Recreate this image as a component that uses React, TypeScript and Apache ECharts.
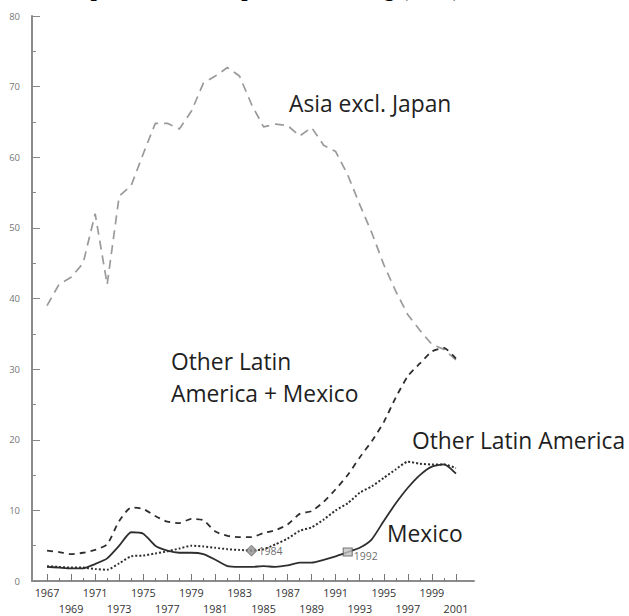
import React, { useEffect, useRef } from "react";
import * as echarts from "echarts";

const years = [1967, 1968, 1969, 1970, 1971, 1972, 1973, 1974, 1975, 1976, 1977, 1978, 1979, 1980, 1981, 1982, 1983, 1984, 1985, 1986, 1987, 1988, 1989, 1990, 1991, 1992, 1993, 1994, 1995, 1996, 1997, 1998, 1999, 2000, 2001];

const asiaExclJapan = [39, 42, 43, 45, 52, 42, 54.5, 56, 60.5, 64.8, 64.8, 64, 66.5, 70.5, 71.5, 72.7, 71.5, 67.5, 64.3, 64.7, 64.5, 63, 64.2, 61.7, 60.8, 57.5, 53.3, 49.3, 44.8, 41, 37.7, 35.5, 33.5, 32.8, 31.3];
const otherLatAmPlusMexico = [4.3, 4.1, 3.8, 4.0, 4.4, 5.2, 8.5, 10.4, 10.2, 9.2, 8.4, 8.2, 8.8, 8.6, 7.0, 6.4, 6.2, 6.2, 6.8, 7.2, 8.0, 9.5, 9.9, 11.2, 13.0, 15.0, 17.5, 19.8, 22.5, 26, 29, 30.8, 32.5, 33, 31.5];
const otherLatAm = [2.1, 2.0, 1.9, 1.9, 1.7, 1.6, 2.5, 3.5, 3.6, 3.9, 4.2, 4.6, 5.0, 4.9, 4.7, 4.5, 4.4, 4.3, 4.5, 5.2, 6.0, 7.1, 7.6, 8.7, 10.0, 11.0, 12.5, 13.4, 14.6, 15.8, 16.9, 16.6, 16.5, 16.5, 16.0];
const mexico = [2.0, 1.9, 1.8, 1.8, 2.4, 3.2, 5.0, 6.9, 6.7, 5.0, 4.3, 4.0, 4.0, 3.8, 3.0, 2.1, 2.0, 2.0, 2.1, 2.0, 2.2, 2.6, 2.6, 3.0, 3.5, 4.1, 4.7, 5.9, 8.5, 11.0, 13.2, 15.0, 16.2, 16.5, 15.2];

const majorTickYears = [1967, 1969, 1971, 1973, 1975, 1977, 1979, 1981, 1983, 1985, 1987, 1989, 1991, 1993, 1995, 1997, 1999, 2001];
const minorTickYears = [1968, 1970, 1972, 1974, 1976, 1978, 1980, 1982, 1984, 1986, 1988, 1990, 1992, 1994, 1996, 1998, 2000];
const labelRowOne = [1967, 1971, 1975, 1979, 1983, 1987, 1991, 1995, 1999];
const labelRowTwo = [1969, 1973, 1977, 1981, 1985, 1989, 1993, 1997, 2001];

const diamondPoint = [1984, 4.3];
const squarePoint = [1992, 4.1];

const titleText = "Japan, as % of imports, excluding (fuels)";
const seriesLabels = {
  asia: "Asia excl. Japan",
  olamTop: "Other Latin",
  olamBottom: "America + Mexico",
  olam: "Other Latin America",
  mexico: "Mexico",
};

const toPairs = (vals: number[]) => years.map((y, i) => [y, vals[i]]);

export default function App() {
  const ref = useRef<HTMLDivElement>(null);
  useEffect(() => {
    if (!ref.current) return;
    const chart = echarts.init(ref.current, null, { renderer: "svg" });
    const lineCol = "#2e2e2e";
    const labelStyle = (text: string) => ({
      text,
      fill: "#1f1f1f",
      font: `22.8px 'Open Sans'`,
      verticalAlign: "middle",
      align: "left",
    });
    chart.setOption({
      animation: false,
      backgroundColor: "#ffffff",
      grid: { left: 32, right: 155, top: 16, bottom: 34, containLabel: false },
      xAxis: [
        {
          type: "value",
          min: 1965.75,
          max: 2002.5,
          position: "bottom",
          splitLine: { show: false },
          axisLine: { show: true, onZero: false, lineStyle: { color: "#8c8c8c", width: 2 } },
          axisTick: { show: true, inside: true, length: 7, customValues: majorTickYears, lineStyle: { color: "#777", width: 1 } },
          axisLabel: {
            show: true,
            customValues: [...labelRowOne, ...labelRowTwo],
            formatter: (v: number) => (labelRowTwo.includes(v) ? "\n" + v : String(v)),
            color: "#333",
            fontSize: 10.8,
            fontFamily: "Open Sans",
            lineHeight: 16,
            margin: 3,
          },
        },
        {
          type: "value",
          min: 1965.75,
          max: 2002.5,
          position: "bottom",
          offset: 0,
          splitLine: { show: false },
          axisLine: { show: false },
          axisTick: { show: true, inside: true, length: 3, customValues: minorTickYears, lineStyle: { color: "#777", width: 1 } },
          axisLabel: { show: false },
        },
      ],
      yAxis: {
        type: "value",
        min: 0,
        max: 80,
        interval: 10,
        splitLine: { show: false },
        axisLine: { show: true, lineStyle: { color: "#8c8c8c", width: 2 } },
        axisTick: { show: true, inside: true, length: 8, lineStyle: { color: "#888", width: 1 } },
        minorTick: { show: true, splitNumber: 2, length: 4, lineStyle: { color: "#888", width: 1 } },
        axisLabel: { color: "#777", fontSize: 9.5, fontFamily: "Open Sans", margin: 12 },
      },
      series: [
        {
          name: seriesLabels.asia,
          type: "line",
          data: toPairs(asiaExclJapan),
          symbol: "none",
          lineStyle: { color: "#9a9a9a", width: 1.7, type: [9, 6] },
        },
        {
          name: "Other Latin America + Mexico",
          type: "line",
          data: toPairs(otherLatAmPlusMexico),
          symbol: "none",
          smooth: 0.2,
          lineStyle: { color: lineCol, width: 1.8, type: [6, 5] },
        },
        {
          name: seriesLabels.olam,
          type: "line",
          data: toPairs(otherLatAm),
          symbol: "none",
          smooth: 0.2,
          lineStyle: { color: lineCol, width: 2, type: [2, 2] },
        },
        {
          name: seriesLabels.mexico,
          type: "line",
          data: toPairs(mexico),
          symbol: "none",
          smooth: 0.2,
          lineStyle: { color: lineCol, width: 1.8 },
        },
        {
          type: "scatter",
          data: [diamondPoint],
          symbol: "diamond",
          symbolSize: [11, 11],
          itemStyle: { color: "#8e8e8e", borderColor: "#666", borderWidth: 1 },
          label: { show: true, position: "right", distance: 1, formatter: (p: any) => String(p.value[0]), fontSize: 10.5, fontFamily: "Open Sans", color: "#444" },
          z: 5,
        },
        {
          type: "scatter",
          data: [squarePoint],
          symbol: "rect",
          symbolSize: [9, 8],
          itemStyle: { color: "#c4c4c4", borderColor: "#555", borderWidth: 1 },
          label: { show: true, position: "right", distance: 1, offset: [0, 4], formatter: (p: any) => String(p.value[0]), fontSize: 10.5, fontFamily: "Open Sans", color: "#444" },
          z: 5,
        },
      ],
      graphic: [
        {
          type: "text",
          x: 68,
          y: -12,
          style: { text: titleText, fill: "#000", font: "bold 22.5px 'Liberation Serif'", verticalAlign: "middle", align: "left" },
        },
        { type: "text", x: 289, y: 103, style: labelStyle(seriesLabels.asia) },
        { type: "text", x: 171, y: 361, style: labelStyle(seriesLabels.olamTop) },
        { type: "text", x: 171, y: 393, style: labelStyle(seriesLabels.olamBottom) },
        { type: "text", x: 412, y: 440, style: labelStyle(seriesLabels.olam) },
        { type: "text", x: 387, y: 533, style: labelStyle(seriesLabels.mexico) },
      ],
    });
    return () => chart.dispose();
  }, []);
  return <div ref={ref} style={{ position: "absolute", left: 0, top: 0, width: 629, height: 616 }} />;
}
